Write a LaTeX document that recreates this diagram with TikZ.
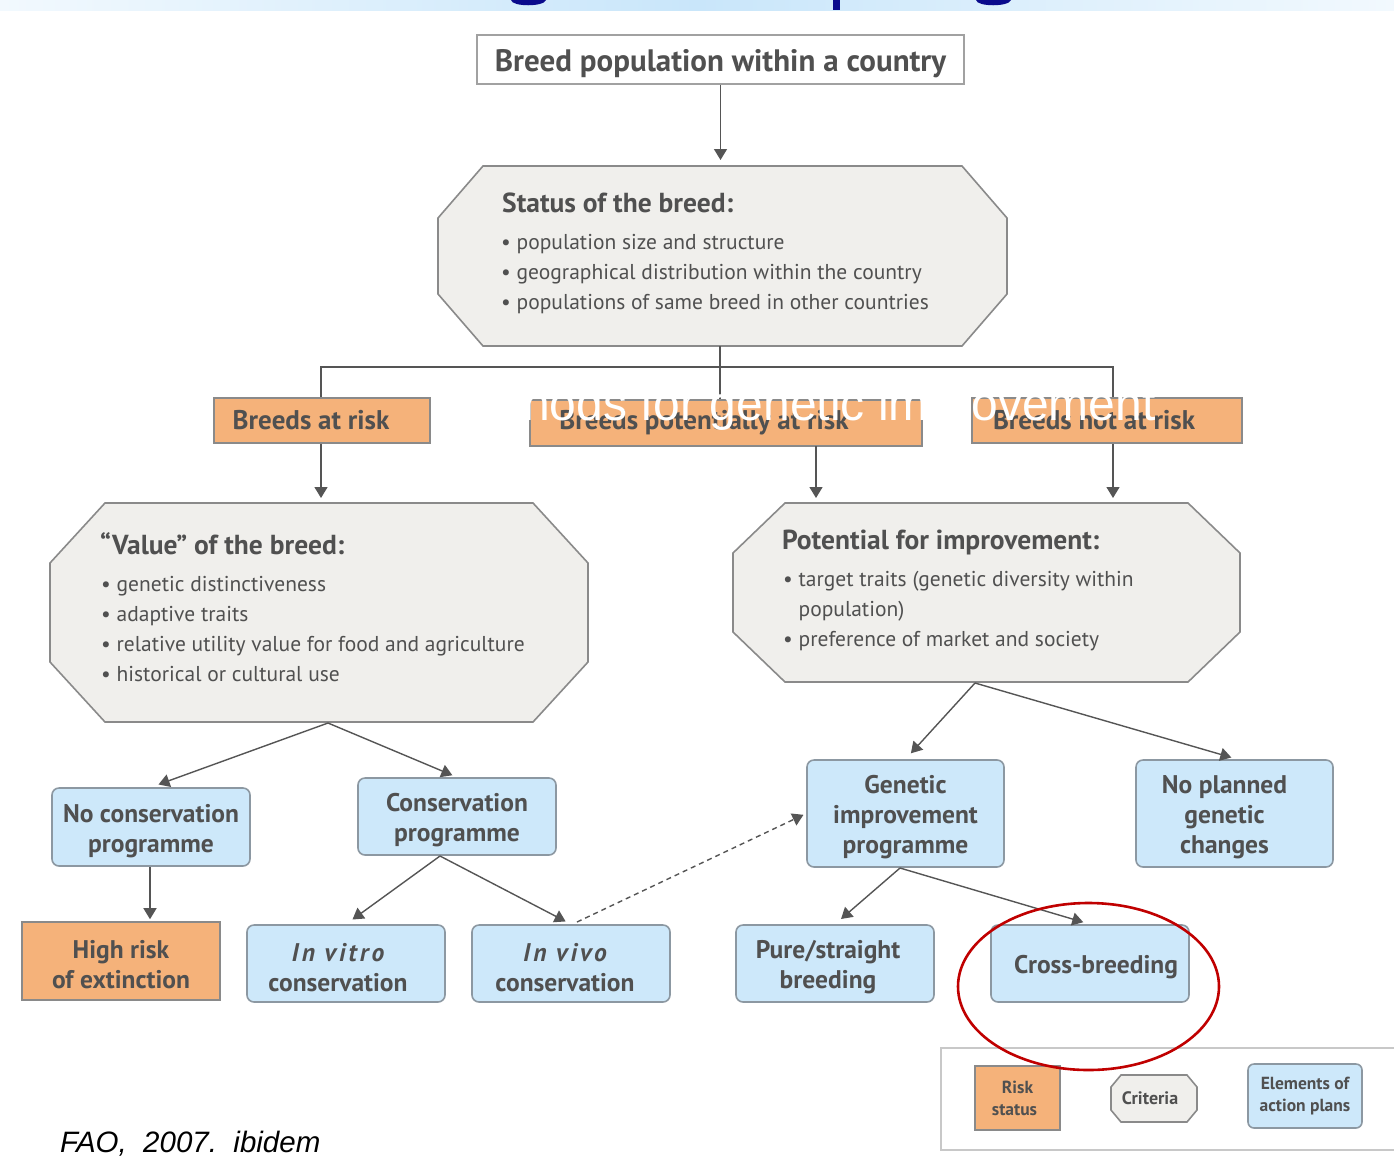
\documentclass[tikz,border=0pt]{standalone}
\usepackage{fontspec}
\setmainfont{PT Sans}
\newfontfamily\footfont{Liberation Sans}
\newfontfamily\overfont{Liberation Sans}
\usetikzlibrary{arrows.meta}
\definecolor{txtc}{HTML}{505050}
\definecolor{linec}{HTML}{555555}
\definecolor{edgec}{HTML}{8A8A8A}
\definecolor{actedge}{HTML}{8C98A2}
\definecolor{riskc}{HTML}{F5B27A}
\definecolor{actc}{HTML}{CDE8FA}
\definecolor{octc}{HTML}{F0EFEC}
\definecolor{redc}{HTML}{C00000}
\definecolor{titleblue}{HTML}{0A0A8C}
\definecolor{bandL}{HTML}{F2F9FE}
\definecolor{bandM}{HTML}{C9E6FA}
\definecolor{legc}{HTML}{C8C8C8}
\newcommand\myboxfont{\bfseries\fontsize{25.5}{30}\selectfont}
\newcommand\myriskfont{\bfseries\fontsize{27}{31}\selectfont}
\newcommand\mybulfont{\fontsize{21.5}{30}\selectfont}
\newcommand\myttlfont{\bfseries\fontsize{27.5}{30}\selectfont}
\newcommand\mylegfont{\bfseries\fontsize{17.5}{22}\selectfont}
\newcommand\dn{\rule{0pt}{26pt}}
\newcommand\octpath[6]{%
  \draw[octo] ({#1+#5},#2) -- ({#3-#5},#2) -- (#3,{#2+#6}) -- (#3,{#4-#6})
    -- ({#3-#5},#4) -- ({#1+#5},#4) -- (#1,{#4-#6}) -- (#1,{#2+#6}) -- cycle;}
\tikzset{
  conn/.style={draw=linec, line width=1.4pt},
  arr/.style={conn, -{Triangle[width=13pt,length=11pt]}},
  riskbox/.style={draw=edgec, fill=riskc, line width=1.6pt, inner sep=0pt, text=txtc, font=\myboxfont, align=center},
  actbox/.style={draw=actedge, fill=actc, rounded corners=7pt, line width=1.6pt, inner sep=0pt, text=txtc, font=\myboxfont, align=center},
  octo/.style={draw=edgec, fill=octc, line width=1.6pt},
  ghost/.style={inner sep=0pt, outer sep=0pt},
  bul/.style={anchor=base west, inner sep=0pt, text=txtc, font=\mybulfont},
  octtitle/.style={anchor=base west, inner sep=0pt, text=txtc, font=\myttlfont},
  legtext/.style={text=txtc, font=\mylegfont, align=center},
}
\begin{document}
\begin{tikzpicture}[x=1pt,y=-1pt]
\useasboundingbox (0,0) rectangle (1394,1163);
\fill[white] (0,0) rectangle (1394,1163);
% top band
\shade[left color=bandL, right color=bandL, middle color=bandM] (0,0) rectangle (1394,10);
\fill[titleblue] (511,0) .. controls (512,7) and (544,7) .. (546,0) -- cycle;
\fill[titleblue] (833,0) rectangle (840,10);
\fill[titleblue] (976,0) .. controls (977,7) and (1009,7) .. (1011,0) -- cycle;

% top box
\node[draw=edgec!80, line width=2.2pt, fill=white, minimum width=487, minimum height=49, inner sep=0pt,
  text=txtc, font=\bfseries\fontsize{31}{34}\selectfont] (topbox) at (720.5,59.5) {\rule{0pt}{30pt}Breed population within a country};

% status octagon
\octpath{438}{166}{1007}{346}{45}{52}
\node[ghost, minimum width=569, minimum height=180] (status) at (722.5,256) {};
\node[octtitle] (st0) at (502,212) {Status of the breed:};
\node[bul] (st1) at (501,249) {\textbullet\ population size and structure};
\node[bul] (st2) at (501,279) {\textbullet\ geographical distribution within the country};
\node[bul] (st3) at (501,309) {\textbullet\ populations of same breed in other countries};

% risk boxes
\node[riskbox, font=\myriskfont, minimum width=216, minimum height=45] (risk1) at (322,420.5) {Breeds at risk\hspace*{22pt}};
\node[riskbox, font=\myriskfont, minimum width=392, minimum height=46] (risk2) at (726,423) {Breeds potentially at risk\hspace*{44pt}};
\node[riskbox, font=\myriskfont, minimum width=270, minimum height=45] (risk3) at (1107,420.5) {Breeds not at risk\hspace*{26pt}};

% value octagon
\octpath{50}{503}{588}{722}{55}{60}
\node[ghost, minimum width=538, minimum height=219] (value) at (319,612.5) {};
\node[octtitle] (va0) at (100,554) {“Value” of the breed:};
\node[bul] (va1) at (101,591) {\textbullet\ genetic distinctiveness};
\node[bul] (va2) at (101,621) {\textbullet\ adaptive traits};
\node[bul] (va3) at (101,651) {\textbullet\ relative utility value for food and agriculture};
\node[bul] (va4) at (101,681) {\textbullet\ historical or cultural use};

% potential octagon
\octpath{733}{503}{1240}{682}{52}{50}
\node[ghost, minimum width=507, minimum height=179] (potential) at (986.5,592.5) {};
\node[octtitle] (po0) at (782,549) {Potential for improvement:};
\node[bul] (po1) at (783,586) {\textbullet\ target traits (genetic diversity within};
\node[bul] (po2) at (783,616) {\phantom{\textbullet\ }population)};
\node[bul] (po3) at (783,646) {\textbullet\ preference of market and society};

% action boxes
\node[actbox, minimum width=198, minimum height=78] (noCons) at (151,827) {\dn No conservation\\programme};
\node[actbox, minimum width=198, minimum height=77] (cons) at (457,816.5) {\dn Conservation\\programme};
\node[actbox, minimum width=197, minimum height=107] (genImp) at (905.5,813.5) {\dn Genetic\\improvement\\programme};
\node[actbox, minimum width=197, minimum height=107] (noPlan) at (1234.5,813.5) {};
\node[text=txtc, font=\myboxfont, align=center, inner sep=0pt] (noPlanT) at ([xshift=-10pt]noPlan.center) {\dn No planned\\genetic\\changes};
\node[riskbox, minimum width=198, minimum height=78] (high) at (121,961) {\dn High risk\\of extinction};
\node[actbox, minimum width=198, minimum height=77] (vitro) at (346,963.5) {\dn{\itshape\addfontfeature{LetterSpace=12}In vitro}\hspace*{16pt}\\conservation\hspace*{16pt}};
\node[actbox, minimum width=198, minimum height=77] (vivo) at (571,963.5) {\dn{\itshape\addfontfeature{LetterSpace=12}In vivo}\hspace*{12pt}\\conservation\hspace*{12pt}};
\node[actbox, minimum width=198, minimum height=77] (pure) at (835,963.5) {\dn Pure/straight\hspace*{14pt}\\breeding\hspace*{14pt}};
\node[actbox, minimum width=198, minimum height=77] (cross) at (1090,963.5) {\dn\hspace*{12pt}Cross-breeding};

% connectors top
\draw[arr, shorten >=6pt] (topbox.south) -- (topbox.south |- status.north);
\coordinate (jM) at (720,367);
\coordinate (jL) at (321,367);
\coordinate (jR) at (1113,367);
\draw[conn] (jM |- status.south) -- (jM) -- (jM |- risk2.north);
\draw[conn] (jL |- risk1.north) -- (jL) -- (jR) -- (jR |- risk3.north);
\draw[arr, shorten >=5pt] (jL |- risk1.south) -- (jL |- value.north);
\coordinate (dA) at (816,446);
\draw[arr, shorten >=5pt] (dA) -- (dA |- potential.north);
\draw[arr, shorten >=5pt] (jR |- risk3.south) -- (jR |- potential.north);

% connectors middle
\coordinate (vS) at (328,723);
\draw[arr, shorten >=8pt] (vS) -- (noCons.north);
\draw[arr, shorten >=5pt] (vS) -- (cons.north);
\coordinate (pS) at (975,683);
\draw[arr, shorten >=8pt] (pS) -- (genImp.north);
\coordinate (nP) at (1240,760);
\draw[arr, shorten >=9pt] (pS) -- (nP);
\draw[arr, shorten >=2pt] (noCons.south -| 150,0) -- (150,0 |- high.north);
\coordinate (cS) at (440,856);
\draw[arr, shorten >=8pt] (cS) -- (vitro.north);
\draw[arr, shorten >=6pt] (cS) -- (vivo.north);
\coordinate (gS) at (900,868);
\draw[arr, shorten >=8pt] (gS) -- (pure.north);
\draw[arr, shorten >=7pt] (gS) -- (cross.north);
\coordinate (vD) at (577,922);
\draw[conn, dashed, dash pattern=on 5pt off 4pt, -{Triangle[width=13pt,length=11pt]}, shorten >=3pt] (vD) -- (genImp.west);

% legend
\draw[draw=legc, line width=1.6pt] (941,1048) rectangle (1400,1150);
\node[riskbox, font=\mylegfont, minimum width=85, minimum height=64] (lgRisk) at (1017.5,1098) {Risk\\status\hspace*{6pt}};
\octpath{1111}{1075}{1197}{1122}{10}{12}
\node[ghost, minimum width=86, minimum height=47, legtext, font=\bfseries\fontsize{18}{22}\selectfont] (lgCrit) at (1150,1098.5) {Criteria};
\node[actbox, font=\mylegfont, rounded corners=6pt, minimum width=114, minimum height=64] (lgAct) at (1305,1096) {Elements of\\action plans};

% red ellipse
\draw[redc, line width=2.6pt] (1088.5,986.5) ellipse [x radius=130.5, y radius=83.5];

% white overlay text
\node[anchor=base west, inner sep=0pt, text=white, font=\overfont\fontsize{48}{50}\selectfont] (over) at (443,420) {Methods for genetic improvement};

% footer
\node[anchor=base west, inner sep=0pt, text=black, font=\footfont\itshape\fontsize{29.5}{32}\selectfont] (foot) at (60,1152) {FAO,\ \ 2007.\ \ ibidem};
\end{tikzpicture}
\end{document}
